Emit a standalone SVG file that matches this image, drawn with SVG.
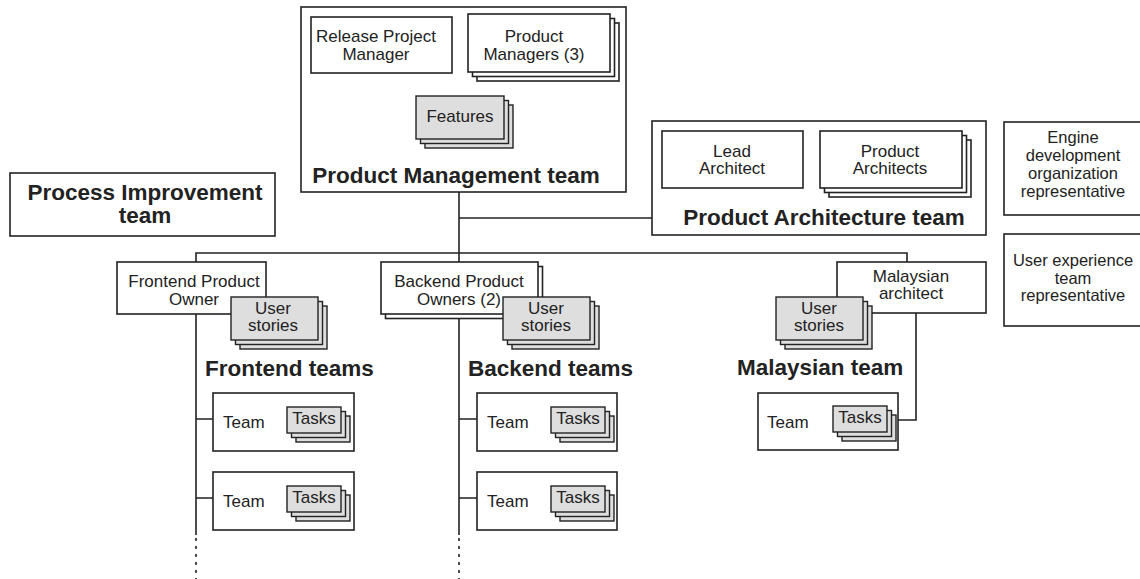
<svg xmlns="http://www.w3.org/2000/svg" width="1140" height="579" viewBox="0 0 1140 579">
<defs>
<style>
.box{fill:#fff;stroke:#222;stroke-width:1.6}
.sh{fill:#dedede;stroke:#222;stroke-width:1.4}
.t{font-family:"Liberation Sans",Arial,sans-serif;font-size:17px;fill:#222}
.s{font-size:16.5px}
.c{text-anchor:middle}
.b{font-family:"Liberation Sans",Arial,sans-serif;font-size:22.5px;font-weight:bold;fill:#222}
.ln{fill:none;stroke:#222;stroke-width:1.6}
.dot{fill:none;stroke:#222;stroke-width:1.6;stroke-dasharray:3 5}
</style>
</defs>
<rect width="1140" height="579" fill="#fff"/>

<g id="connectors">
<path class="ln" d="M459 192 V262"/>
<path class="ln" d="M459 218 H652"/>
<path class="ln" d="M196 262 V253 H907 V262"/>
<path class="ln" d="M196 314 V535 M196 419 H213 M196 498 H213"/>
<path class="dot" d="M196 538 V579"/>
<path class="ln" d="M459 318 V535 M459 419 H477 M459 498 H477"/>
<path class="dot" d="M459 538 V579"/>
<path class="ln" d="M916 313 V420 H898"/>
</g>

<g id="product-management-team">
<rect class="box" x="301" y="7" width="325" height="185"/>
<text class="b c" x="456" y="183">Product Management team</text>
</g>
<g id="release-project-manager">
<rect class="box" x="311" y="17" width="141" height="56"/>
<text class="t c" x="376" y="42">Release Project</text>
<text class="t c" x="376" y="60">Manager</text>
</g>
<g id="product-managers">
<rect class="box" x="477" y="23" width="142" height="58"/>
<rect class="box" x="472.5" y="18.5" width="142" height="58"/>
<rect class="box" x="468" y="14" width="142" height="58"/>
<text class="t c" x="534" y="42">Product</text>
<text class="t c" x="534" y="60">Managers (3)</text>
</g>
<g id="features">
<rect class="sh" x="425" y="105" width="88" height="43"/>
<rect class="sh" x="420.5" y="100.5" width="88" height="43"/>
<rect class="sh" x="416" y="96" width="88" height="43"/>
<text class="t c" x="460" y="122">Features</text>
</g>

<g id="product-architecture-team">
<rect class="box" x="652" y="121" width="334" height="114"/>
<text class="b c" x="824" y="225">Product Architecture team</text>
</g>
<g id="lead-architect">
<rect class="box" x="662" y="131" width="141" height="57"/>
<text class="t c" x="732" y="157">Lead</text>
<text class="t c" x="732" y="174">Architect</text>
</g>
<g id="product-architects">
<rect class="box" x="829" y="140" width="142" height="57"/>
<rect class="box" x="824.5" y="135.5" width="142" height="57"/>
<rect class="box" x="820" y="131" width="142" height="57"/>
<text class="t c" x="890" y="157">Product</text>
<text class="t c" x="890" y="174">Architects</text>
</g>

<g id="engine-representative">
<rect class="box" x="1004" y="122" width="140" height="93"/>
<text class="t s c" x="1073" y="143">Engine</text>
<text class="t s c" x="1073" y="161">development</text>
<text class="t s c" x="1073" y="179">organization</text>
<text class="t s c" x="1073" y="197">representative</text>
</g>
<g id="ux-representative">
<rect class="box" x="1004" y="234" width="140" height="92"/>
<text class="t s c" x="1073" y="266">User experience</text>
<text class="t s c" x="1073" y="283.5">team</text>
<text class="t s c" x="1073" y="301">representative</text>
</g>

<g id="process-improvement-team">
<rect class="box" x="10" y="173" width="265" height="63"/>
<text class="b c" x="145" y="200">Process Improvement</text>
<text class="b c" x="145" y="223">team</text>
</g>

<g id="frontend-product-owner">
<rect class="box" x="117" y="262" width="149" height="52"/>
<text class="t c" x="194" y="287">Frontend Product</text>
<text class="t c" x="194" y="305">Owner</text>
</g>
<g id="frontend-user-stories">
<rect class="sh" x="240" y="306" width="87" height="43"/>
<rect class="sh" x="235.5" y="301.5" width="87" height="43"/>
<rect class="sh" x="231" y="297" width="87" height="43"/>
<text class="t c" x="273" y="314">User</text>
<text class="t c" x="273" y="331">stories</text>
</g>
<g id="frontend-teams">
<text class="b" x="205" y="376">Frontend teams</text>
</g>
<g id="frontend-team-1">
<rect class="box" x="213" y="393" width="141" height="58"/>
<text class="t" x="223" y="428">Team</text>
<rect class="sh" x="296" y="416" width="54" height="26"/>
<rect class="sh" x="291.5" y="411.5" width="54" height="26"/>
<rect class="sh" x="287" y="407" width="54" height="26"/>
<text class="t c" x="314" y="424">Tasks</text>
</g>
<g id="frontend-team-2">
<rect class="box" x="213" y="472" width="141" height="58"/>
<text class="t" x="223" y="507">Team</text>
<rect class="sh" x="296" y="495" width="54" height="26"/>
<rect class="sh" x="291.5" y="490.5" width="54" height="26"/>
<rect class="sh" x="287" y="486" width="54" height="26"/>
<text class="t c" x="314" y="503">Tasks</text>
</g>

<g id="backend-product-owners">
<rect class="box" x="385.5" y="266.5" width="157" height="52"/>
<rect class="box" x="381" y="262" width="157" height="52"/>
<text class="t c" x="459" y="287">Backend Product</text>
<text class="t c" x="459" y="305">Owners (2)</text>
</g>
<g id="backend-user-stories">
<rect class="sh" x="512" y="306" width="87" height="43"/>
<rect class="sh" x="507.5" y="301.5" width="87" height="43"/>
<rect class="sh" x="503" y="297" width="87" height="43"/>
<text class="t c" x="546" y="314">User</text>
<text class="t c" x="546" y="331">stories</text>
</g>
<g id="backend-teams">
<text class="b" x="468" y="376">Backend teams</text>
</g>
<g id="backend-team-1">
<rect class="box" x="477" y="393" width="140" height="58"/>
<text class="t" x="487" y="428">Team</text>
<rect class="sh" x="560" y="416" width="54" height="26"/>
<rect class="sh" x="555.5" y="411.5" width="54" height="26"/>
<rect class="sh" x="551" y="407" width="54" height="26"/>
<text class="t c" x="578" y="424">Tasks</text>
</g>
<g id="backend-team-2">
<rect class="box" x="477" y="472" width="140" height="58"/>
<text class="t" x="487" y="507">Team</text>
<rect class="sh" x="560" y="495" width="54" height="26"/>
<rect class="sh" x="555.5" y="490.5" width="54" height="26"/>
<rect class="sh" x="551" y="486" width="54" height="26"/>
<text class="t c" x="578" y="503">Tasks</text>
</g>

<g id="malaysian-architect">
<rect class="box" x="837" y="262" width="149" height="51"/>
<text class="t c" x="911" y="282">Malaysian</text>
<text class="t c" x="911" y="299">architect</text>
</g>
<g id="malaysian-user-stories">
<rect class="sh" x="785" y="306" width="87" height="43"/>
<rect class="sh" x="780.5" y="301.5" width="87" height="43"/>
<rect class="sh" x="776" y="297" width="87" height="43"/>
<text class="t c" x="819" y="314">User</text>
<text class="t c" x="819" y="331">stories</text>
</g>
<g id="malaysian-team">
<text class="b" x="737" y="375">Malaysian team</text>
</g>
<g id="malaysian-team-1">
<rect class="box" x="758" y="393" width="140" height="57"/>
<text class="t" x="767" y="428">Team</text>
<rect class="sh" x="842" y="415" width="54" height="26"/>
<rect class="sh" x="837.5" y="410.5" width="54" height="26"/>
<rect class="sh" x="833" y="406" width="54" height="26"/>
<text class="t c" x="860" y="423">Tasks</text>
</g>
</svg>
